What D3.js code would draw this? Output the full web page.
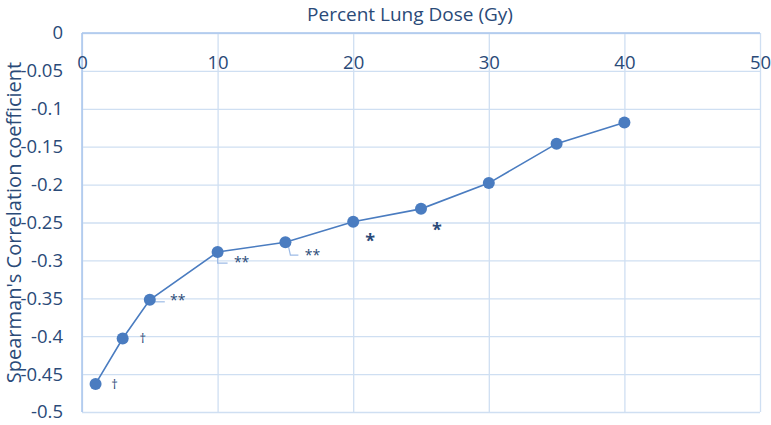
<!DOCTYPE html>
<html>
<head>
<meta charset="utf-8">
<script src="https://cdn.jsdelivr.net/npm/d3@7"></script>
<style>
  body { margin: 0; background: #fff; }
  svg text { font-family: "Open Sans", sans-serif; fill: #2a4a78; }
</style>
</head>
<body>
<div id="chart"></div>
<script>
// data
var doses = [1, 3, 5, 10, 15, 20, 25, 30, 35, 40];
var rho = [-0.463, -0.403, -0.352, -0.289, -0.276, -0.249, -0.232, -0.198, -0.146, -0.118];
var marks = ['\u2020', '\u2020', '**', '**', '**', '*', '*', '', '', ''];
var xTicks = [0, 10, 20, 30, 40, 50];
var yTicks = [0, -0.05, -0.1, -0.15, -0.2, -0.25, -0.3, -0.35, -0.4, -0.45, -0.5];

// where each significance mark sits, relative to its point (pixels), and its leader line
var markLayout = [
    { dx: 19, dy: 0, size: 13, leader: null },
    { dx: 20, dy: 0, size: 13, leader: null },
    { dx: 28, dy: 0, size: 14, leader: [[2, 2], [15, 2]] },
    { dx: 24, dy: 10, size: 14, leader: [[0, 3], [0, 11], [10, 11]] },
    { dx: 27, dy: 13, size: 14, leader: [[3, 4], [5, 13], [13, 13]] },
    { dx: 17, dy: 12, size: 18, leader: null },
    { dx: 16, dy: 14, size: 18, leader: null }
];

var svgWidth = 771;
var svgHeight = 425;

var margins = { top: 33, right: 11, bottom: 13, left: 82 };
var width = svgWidth - margins.left - margins.right;
var height = svgHeight - margins.top - margins.bottom;

var svg = d3.select('#chart')
    .append('svg')
    .attr('width', svgWidth)
    .attr('height', svgHeight);

var chartGroup = svg.append('g')
    .attr('transform', `translate(${margins.left},${margins.top})`);

var xScale = d3.scaleLinear().domain([0, 50]).range([0, width]);
var yScale = d3.scaleLinear().domain([0, -0.5]).range([0, height]);

// gridlines
chartGroup.append('g')
    .call(d3.axisTop(xScale).tickValues(xTicks).tickSize(-height).tickFormat(''))
    .call(g => g.select('.domain').remove())
    .call(g => g.selectAll('line').attr('stroke', '#cfdff2').attr('stroke-width', 1.3));

chartGroup.append('g')
    .call(d3.axisLeft(yScale).tickValues(yTicks).tickSize(-width).tickFormat(''))
    .call(g => g.select('.domain').remove())
    .call(g => g.selectAll('line').attr('stroke', '#cfdff2').attr('stroke-width', 1.3));

// axis lines at x=0 and y=0
chartGroup.append('line')
    .attr('x1', 0).attr('x2', width)
    .attr('y1', yScale(0)).attr('y2', yScale(0))
    .attr('stroke', '#aac6ec').attr('stroke-width', 1.5);
chartGroup.append('line')
    .attr('x1', xScale(0)).attr('x2', xScale(0))
    .attr('y1', 0).attr('y2', height)
    .attr('stroke', '#aac6ec').attr('stroke-width', 1.5);

// tick labels
var yLabels = chartGroup.append('g')
    .call(d3.axisLeft(yScale).tickValues(yTicks).tickSize(0).tickPadding(19)
        .tickFormat(d => d === 0 ? '0' : String(d)));
yLabels.select('.domain').remove();
yLabels.selectAll('text')
    .attr('font-size', 18.5)
    .attr('font-family', '"Open Sans", sans-serif')
    .attr('fill', '#2a4a78');

var xLabels = chartGroup.append('g')
    .attr('transform', `translate(0, ${yScale(-0.05) - 2})`)
    .call(d3.axisTop(xScale).tickValues(xTicks).tickSize(0).tickPadding(0));
xLabels.select('.domain').remove();
xLabels.selectAll('text')
    .attr('font-size', 18.5)
    .attr('font-family', '"Open Sans", sans-serif')
    .attr('fill', '#2a4a78');

// titles
svg.append('text')
    .attr('x', 410)
    .attr('y', 21)
    .attr('text-anchor', 'middle')
    .attr('font-size', 19)
    .text('Percent Lung Dose (Gy)');

svg.append('text')
    .attr('transform', `translate(21, ${margins.top + height / 2}) rotate(-90)`)
    .attr('text-anchor', 'middle')
    .attr('font-size', 20)
    .text("Spearman's Correlation coefficient");

// series
var points = doses.map((d, i) => ({ x: d, y: rho[i], mark: marks[i] }));

var line = d3.line()
    .x(d => xScale(d.x))
    .y(d => yScale(d.y));

chartGroup.append('path')
    .datum(points)
    .attr('d', line)
    .attr('fill', 'none')
    .attr('stroke', '#4a7cc0')
    .attr('stroke-width', 1.6);

// leader lines
points.forEach(function (p, i) {
    var lay = markLayout[i];
    if (!lay || !lay.leader) return;
    var px = xScale(p.x), py = yScale(p.y);
    chartGroup.append('path')
        .attr('d', d3.line()(lay.leader.map(o => [px + o[0], py + o[1]])))
        .attr('fill', 'none')
        .attr('stroke', '#9dbbe6')
        .attr('stroke-width', 1.2);
});

chartGroup.selectAll('circle')
    .data(points)
    .enter()
    .append('circle')
    .attr('cx', d => xScale(d.x))
    .attr('cy', d => yScale(d.y))
    .attr('r', 6)
    .attr('fill', '#4a7cc0');

// significance marks
chartGroup.selectAll('.mark')
    .data(points.filter(d => d.mark))
    .enter()
    .append('text')
    .attr('class', 'mark')
    .attr('x', (d, i) => xScale(d.x) + markLayout[i].dx)
    .attr('y', (d, i) => yScale(d.y) + markLayout[i].dy)
    .attr('dy', (d, i) => d.mark === '*' ? '0.75em' : '0.35em')
    .attr('text-anchor', 'middle')
    .attr('font-size', (d, i) => markLayout[i].size)
    .attr('font-weight', (d, i) => d.mark === '*' ? 'bold' : 'normal')
    .attr('fill', '#2a4a78')
    .text(d => d.mark);
</script>
</body>
</html>
